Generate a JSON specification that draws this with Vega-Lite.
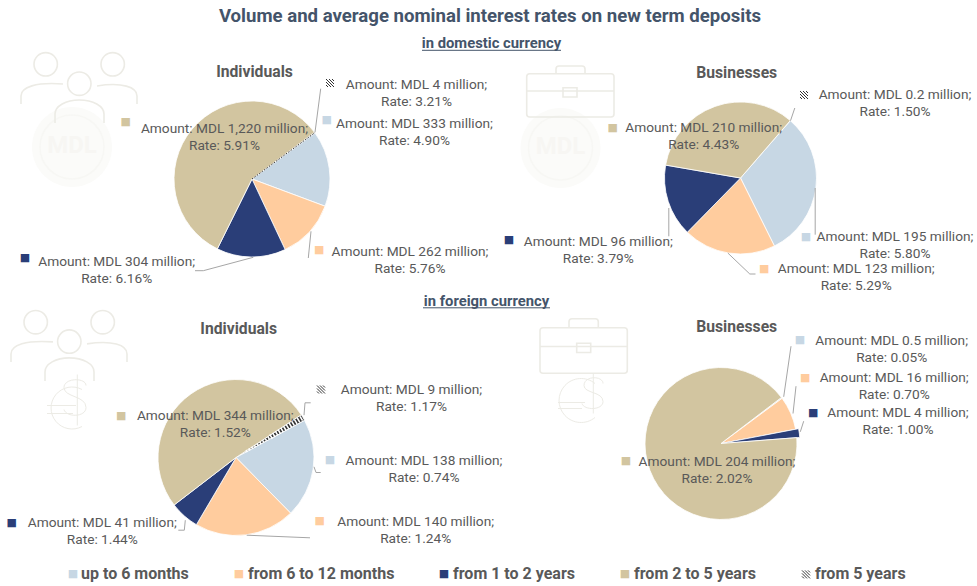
{
  "$schema": "https://vega.github.io/schema/vega-lite/v6.json",
  "padding": 0,
  "background": "white",
  "config": {"view": {"stroke": null}, "text": {"font": "Roboto"}},
  "datasets": {
    "deposits": [
      {"panel": "TL", "term": "from 5 years", "rank": 0, "amount": 4, "label": "Amount: MDL 4 million;\nRate: 3.21%"},
      {"panel": "TL", "term": "up to 6 months", "rank": 1, "amount": 333, "label": "Amount: MDL 333 million;\nRate: 4.90%"},
      {"panel": "TL", "term": "from 6 to 12 months", "rank": 2, "amount": 262, "label": "Amount: MDL 262 million;\nRate: 5.76%"},
      {"panel": "TL", "term": "from 1 to 2 years", "rank": 3, "amount": 304, "label": "Amount: MDL 304 million;\nRate: 6.16%"},
      {"panel": "TL", "term": "from 2 to 5 years", "rank": 4, "amount": 1220, "label": "Amount: MDL 1,220 million;\nRate: 5.91%"},
      {"panel": "TR", "term": "from 5 years", "rank": 0, "amount": 0.2, "label": "Amount: MDL  0.2 million;\nRate: 1.50%"},
      {"panel": "TR", "term": "up to 6 months", "rank": 1, "amount": 195, "label": "Amount: MDL 195 million;\nRate: 5.80%"},
      {"panel": "TR", "term": "from 6 to 12 months", "rank": 2, "amount": 123, "label": "Amount: MDL 123 million;\nRate: 5.29%"},
      {"panel": "TR", "term": "from 1 to 2 years", "rank": 3, "amount": 96, "label": "Amount: MDL 96 million;\nRate: 3.79%"},
      {"panel": "TR", "term": "from 2 to 5 years", "rank": 4, "amount": 210, "label": "Amount: MDL 210 million;\nRate: 4.43%"},
      {"panel": "BL", "term": "from 5 years", "rank": 0, "amount": 9, "label": "Amount: MDL 9 million;\nRate: 1.17%"},
      {"panel": "BL", "term": "up to 6 months", "rank": 1, "amount": 138, "label": "Amount: MDL 138 million;\nRate: 0.74%"},
      {"panel": "BL", "term": "from 6 to 12 months", "rank": 2, "amount": 140, "label": "Amount: MDL 140 million;\nRate: 1.24%"},
      {"panel": "BL", "term": "from 1 to 2 years", "rank": 3, "amount": 41, "label": "Amount: MDL 41 million;\nRate: 1.44%"},
      {"panel": "BL", "term": "from 2 to 5 years", "rank": 4, "amount": 344, "label": "Amount: MDL 344 million;\nRate: 1.52%"},
      {"panel": "BR", "term": "up to 6 months", "rank": 1, "amount": 0.5, "label": "Amount: MDL  0.5 million;\nRate: 0.05%"},
      {"panel": "BR", "term": "from 6 to 12 months", "rank": 2, "amount": 16, "label": "Amount: MDL 16 million;\nRate: 0.70%"},
      {"panel": "BR", "term": "from 1 to 2 years", "rank": 3, "amount": 4, "label": "Amount: MDL 4 million;\nRate: 1.00%"},
      {"panel": "BR", "term": "from 2 to 5 years", "rank": 4, "amount": 204, "label": "Amount: MDL 204 million;\nRate: 2.02%"}
    ],
    "terms": [
      {"term": "up to 6 months", "rank": 1},
      {"term": "from 6 to 12 months", "rank": 2},
      {"term": "from 1 to 2 years", "rank": 3},
      {"term": "from 2 to 5 years", "rank": 4},
      {"term": "from 5 years", "rank": 0}
    ]
  },
  "spacing": -11.5,
  "vconcat": [
    {
      "width": 977,
      "height": 52.5,
      "data": {"values": [{"title": "Volume and average nominal interest rates on new term deposits", "sub": "in domestic currency"}]},
      "layer": [
        {"mark": {"type": "text", "fontSize": 18.6, "fontWeight": "bold", "fill": "#44546A", "dx": 1.5, "dy": -10.25}, "encoding": {"text": {"field": "title"}}},
        {"mark": {"type": "text", "fontSize": 14.8, "fontWeight": "bold", "fill": "#44546A", "dx": 3, "dy": 17.75}, "encoding": {"text": {"field": "sub"}}},
        {"mark": {"type": "point", "shape": "M-66.5,24.05H72.5", "size": 4, "filled": false, "stroke": "#44546A", "strokeWidth": 1, "opacity": 1}}
      ]
    },
    {
      "spacing": 0,
      "bounds": "flush",
      "hconcat": [
        {
          "width": 504,
          "height": 252,
          "layer": [
            {"data": {"values": [{"icon": "coin"}]}, "mark": {"type": "point", "shape": "M-220,-32a40,40 0 1,0 80,0a40,40 0 1,0 -80,0", "size": 4, "filled": true, "fill": "#FBFBF9", "strokeWidth": 0, "opacity": 1}},
            {"data": {"values": [{"icon": "coin"}]}, "mark": {"type": "point", "shape": "M-212,-32a32,32 0 1,0 64,0a32,32 0 1,0 -64,0", "size": 4, "filled": false, "stroke": "#F7F7F4", "strokeWidth": 1.5, "opacity": 1}},
            {"data": {"values": [{"t": "MDL"}]}, "mark": {"type": "text", "fontSize": 24, "fontWeight": "bold", "fill": "#F7F6F3", "dx": -180, "dy": -33}, "encoding": {"text": {"field": "t"}}},
            {"data": {"values": [{"icon": "people"}]}, "mark": {"type": "point", "shape": "M-218,-114.7a11.7,11.7 0 1,0 23.4,0a11.7,11.7 0 1,0 -23.4,0M-151,-114.7a11.7,11.7 0 1,0 23.4,0a11.7,11.7 0 1,0 -23.4,0M-184.4,-95.3a11.7,11.7 0 1,0 23.4,0a11.7,11.7 0 1,0 -23.4,0M-231,-75V-83C-231,-92 -216,-97 -189,-95M-115,-75V-83C-115,-92 -130,-97 -155,-93M-197,-56V-65C-197,-73 -186,-79 -172.7,-79C-159,-79 -148,-73 -148,-65V-56", "size": 4, "filled": false, "stroke": "#ECEBE5", "strokeWidth": 1.6, "opacity": 1}},
            {
              "data": {"name": "deposits"},
              "transform": [{"filter": "datum.panel == 'TL'"}],
              "layer": [
                {
                  "mark": {"type": "arc", "radius": 78, "stroke": "white", "strokeWidth": 0.8},
                  "encoding": {
                    "theta": {"field": "amount", "type": "quantitative", "stack": true, "scale": {"range": [0.93, 7.213]}},
                    "order": {"field": "rank", "type": "ordinal", "sort": "ascending"},
                    "color": {"field": "term", "type": "nominal", "legend": null, "scale": {"domain": ["up to 6 months", "from 6 to 12 months", "from 1 to 2 years", "from 2 to 5 years", "from 5 years"], "range": ["#C7D7E4", "#FFCC9E", "#2A3E78", "#D2C5A0", "#333333"]}}
                  }
                },
                {
                  "mark": {"type": "text", "font": "DejaVu Sans", "fontSize": 11, "dx": {"expr": "[78,74.7,67.3,-227,-126.3][datum.rank]"}, "dy": {"expr": "[-96,-58.7,71.3,79,-57][datum.rank]"}},
                  "encoding": {
                    "text": {"condition": {"test": "datum.rank == 0", "value": ""}, "value": "■"},
                    "color": {"field": "term", "type": "nominal", "legend": null}
                  }
                },
                {
                  "mark": {"type": "text", "fontSize": 13.7, "fill": "#595959", "lineBreak": "\n", "lineHeight": 17, "dx": {"expr": "[164.5,162.5,158,-135.3,-27.5][datum.rank]"}, "dy": {"expr": "[-94.5,-55,72.8,83.2,-50][datum.rank]"}},
                  "encoding": {"text": {"field": "label"}}
                }
              ]
            },
            {"data": {"values": [{"icon": "swatch"}]}, "mark": {"type": "point", "shape": "M74,-100l8,8M77,-100l5,5M74,-97l5,5M80,-100l2,2M74,-94l2,2", "size": 4, "filled": false, "stroke": "#333333", "strokeWidth": 1, "opacity": 1}},
            {"data": {"values": [{"icon": "hatch"}]}, "mark": {"type": "point", "shape": "M0,0L63,-46.4", "size": 4, "filled": false, "stroke": "#333333", "strokeWidth": 1, "strokeDash": [1.5, 1.5], "opacity": 1}},
            {"data": {"values": [{"icon": "leaders"}]}, "mark": {"type": "point", "shape": "M63,-46.7L68.7,-90.3M56.3,79L59,52.3M-57,91.7L-48.7,91.7L1.3,78.3", "size": 4, "filled": false, "stroke": "#A6A6A6", "strokeWidth": 1, "opacity": 1}},
            {"data": {"values": [{"t": "Individuals"}]}, "mark": {"type": "text", "fontSize": 15.7, "fontWeight": "bold", "fill": "#595959", "dx": 2.5, "dy": -107}, "encoding": {"text": {"field": "t"}}}
          ]
        },
        {
          "width": 473,
          "height": 250,
          "layer": [
            {"data": {"values": [{"icon": "coin"}]}, "mark": {"type": "point", "shape": "M-220,-30a40,40 0 1,0 80,0a40,40 0 1,0 -80,0", "size": 4, "filled": true, "fill": "#FBFBF9", "strokeWidth": 0, "opacity": 1}},
            {"data": {"values": [{"icon": "coin"}]}, "mark": {"type": "point", "shape": "M-212,-30a32,32 0 1,0 64,0a32,32 0 1,0 -64,0", "size": 4, "filled": false, "stroke": "#F7F7F4", "strokeWidth": 1.5, "opacity": 1}},
            {"data": {"values": [{"t": "MDL"}]}, "mark": {"type": "text", "fontSize": 24, "fontWeight": "bold", "fill": "#F7F6F3", "dx": -180, "dy": -31}, "encoding": {"text": {"field": "t"}}},
            {"data": {"values": [{"icon": "case"}]}, "mark": {"type": "point", "shape": "M-213.8,-101.3a3,3 0 0 1 3,-3H-129.5a3,3 0 0 1 3,3V-64a3,3 0 0 1 -3,3H-210.8a3,3 0 0 1 -3,-3ZM-184.5,-104.3V-109a3,3 0 0 1 3,-3H-158.5a3,3 0 0 1 3,3V-104.3M-213.8,-87H-126.5M-177.5,-90.3H-163.5V-81H-177.5Z", "size": 4, "filled": false, "stroke": "#ECEBE5", "strokeWidth": 1.6, "opacity": 1}},
            {
              "data": {"name": "deposits"},
              "transform": [{"filter": "datum.panel == 'TR'"}],
              "layer": [
                {
                  "mark": {"type": "arc", "radius": 76, "stroke": "white", "strokeWidth": 0.8},
                  "encoding": {
                    "theta": {"field": "amount", "type": "quantitative", "stack": true, "scale": {"range": [0.714, 6.997]}},
                    "order": {"field": "rank", "type": "ordinal", "sort": "ascending"},
                    "color": {"field": "term", "type": "nominal", "legend": null, "scale": {"domain": ["up to 6 months", "from 6 to 12 months", "from 1 to 2 years", "from 2 to 5 years", "from 5 years"], "range": ["#C7D7E4", "#FFCC9E", "#2A3E78", "#D2C5A0", "#333333"]}}
                  }
                },
                {
                  "mark": {"type": "text", "font": "DejaVu Sans", "fontSize": 11, "dx": {"expr": "[63.5,65.5,23.8,-231.5,-127.8][datum.rank]"}, "dy": {"expr": "[-83,59,91,62.3,-49.7][datum.rank]"}},
                  "encoding": {
                    "text": {"condition": {"test": "datum.rank == 0", "value": ""}, "value": "■"},
                    "color": {"field": "term", "type": "nominal", "legend": null}
                  }
                },
                {
                  "mark": {"type": "text", "fontSize": 13.7, "fill": "#595959", "lineBreak": "\n", "lineHeight": 17, "dx": {"expr": "[154.5,154.5,115.7,-142.2,-36.8][datum.rank]"}, "dy": {"expr": "[-82.7,59.2,91.3,64.2,-49.8][datum.rank]"}},
                  "encoding": {"text": {"field": "label"}}
                }
              ]
            },
            {"data": {"values": [{"icon": "swatch"}]}, "mark": {"type": "point", "shape": "M59.5,-87l8,8M62.5,-87l5,5M59.5,-84l5,5M65.5,-87l2,2M59.5,-81l2,2", "size": 4, "filled": false, "stroke": "#333333", "strokeWidth": 1, "opacity": 1}},
            {"data": {"values": [{"icon": "leaders"}]}, "mark": {"type": "point", "shape": "M50,-57.3L54.3,-70M74.7,10V56.7M-12.7,75L9.3,96H15M-71.7,30V58.3", "size": 4, "filled": false, "stroke": "#A6A6A6", "strokeWidth": 1, "opacity": 1}},
            {"data": {"values": [{"t": "Businesses"}]}, "mark": {"type": "text", "fontSize": 15.7, "fontWeight": "bold", "fill": "#595959", "dx": -3.8, "dy": -105.5}, "encoding": {"text": {"field": "t"}}}
          ]
        }
      ]
    },
    {
      "spacing": 0,
      "bounds": "flush",
      "hconcat": [
        {
          "width": 472,
          "height": 202,
          "layer": [
            {"data": {"values": [{"icon": "people"}]}, "mark": {"type": "point", "shape": "M-212,-135.3a11.7,11.7 0 1,0 23.4,0a11.7,11.7 0 1,0 -23.4,0M-145,-135.3a11.7,11.7 0 1,0 23.4,0a11.7,11.7 0 1,0 -23.4,0M-178.4,-115.9a11.7,11.7 0 1,0 23.4,0a11.7,11.7 0 1,0 -23.4,0M-225,-95.6V-103.6C-225,-112.6 -210,-117.6 -183,-115.6M-109,-95.6V-103.6C-109,-112.6 -124,-117.6 -149,-113.6M-191,-76.6V-85.6C-191,-93.6 -180,-99.6 -166.7,-99.6C-153,-99.6 -142,-93.6 -142,-85.6V-76.6", "size": 4, "filled": false, "stroke": "#ECEBE5", "strokeWidth": 1.6, "opacity": 1}},
            {"data": {"values": [{"icon": "currency"}]}, "mark": {"type": "point", "shape": "M-154,-68A21,21 0 1,0 -154,-31M-189,-52H-160M-189,-44H-163M-158.7,-83V-32M-150,-72C-150,-80 -172,-80 -172,-70C-172,-60 -150,-62 -150,-50C-150,-40 -170,-40 -172,-48", "size": 4, "filled": false, "stroke": "#ECEBE5", "strokeWidth": 1, "opacity": 1}},
            {
              "data": {"name": "deposits"},
              "transform": [{"filter": "datum.panel == 'BL'"}],
              "layer": [
                {
                  "mark": {"type": "arc", "radius": 78, "stroke": "white", "strokeWidth": 0.8},
                  "encoding": {
                    "theta": {"field": "amount", "type": "quantitative", "stack": true, "scale": {"range": [0.991, 7.274]}},
                    "order": {"field": "rank", "type": "ordinal", "sort": "ascending"},
                    "color": {"field": "term", "type": "nominal", "legend": null, "scale": {"domain": ["up to 6 months", "from 6 to 12 months", "from 1 to 2 years", "from 2 to 5 years", "from 5 years"], "range": ["#C7D7E4", "#FFCC9E", "#2A3E78", "#D2C5A0", "#333333"]}}
                  }
                },
                {
                  "mark": {"type": "text", "font": "DejaVu Sans", "fontSize": 11, "dx": {"expr": "[85,94,83.7,-224.3,-114.7][datum.rank]"}, "dy": {"expr": "[-68,2.7,63.7,65,-41.7][datum.rank]"}},
                  "encoding": {
                    "text": {"condition": {"test": "datum.rank == 0", "value": ""}, "value": "■"},
                    "color": {"field": "term", "type": "nominal", "legend": null}
                  }
                },
                {
                  "mark": {"type": "text", "fontSize": 13.7, "fill": "#595959", "lineBreak": "\n", "lineHeight": 17, "dx": {"expr": "[175.5,188,179.7,-133.7,-20.7][datum.rank]"}, "dy": {"expr": "[-68,3,64,65,-42][datum.rank]"}},
                  "encoding": {"text": {"field": "label"}}
                }
              ]
            },
            {"data": {"values": [{"icon": "swatch"}]}, "mark": {"type": "point", "shape": "M81,-72l8,8M84,-72l5,5M81,-69l5,5M87,-72l2,2M81,-66l2,2", "size": 4, "filled": false, "stroke": "#333333", "strokeWidth": 1, "opacity": 1}},
            {"data": {"values": [{"icon": "hatch"}]}, "mark": {"type": "point", "shape": "M34.4,-20.5L66,-39.4", "size": 4, "filled": false, "stroke": "white", "strokeWidth": 5, "strokeDash": [1.6, 1.6], "opacity": 1}},
            {"data": {"values": [{"icon": "hatch"}]}, "mark": {"type": "point", "shape": "M10,-6L34.4,-20.5", "size": 4, "filled": false, "stroke": "white", "strokeWidth": 2.5, "strokeDash": [1.6, 1.6], "opacity": 1}},
            {"data": {"values": [{"icon": "leaders"}]}, "mark": {"type": "point", "shape": "M68,-42.3L69,-54.7H74.7M78,9.3L80,15H84.7M10.7,77.7L74,80.3M-50.7,62.7L-51.7,72.7H-57.7", "size": 4, "filled": false, "stroke": "#A6A6A6", "strokeWidth": 1, "opacity": 1}},
            {"data": {"values": [{"icon": "underline"}]}, "mark": {"type": "point", "shape": "M187,-149.7H314", "size": 4, "filled": false, "stroke": "#44546A", "strokeWidth": 1, "opacity": 1}},
            {"data": {"values": [{"t": "in foreign currency"}]}, "mark": {"type": "text", "fontSize": 14.8, "fontWeight": "bold", "fill": "#44546A", "dx": 250.5, "dy": -156}, "encoding": {"text": {"field": "t"}}},
            {"data": {"values": [{"t": "Individuals"}]}, "mark": {"type": "text", "fontSize": 15.7, "fontWeight": "bold", "fill": "#595959", "dx": 2.7, "dy": -128.7}, "encoding": {"text": {"field": "t"}}}
          ]
        },
        {
          "width": 498,
          "height": 174,
          "layer": [
            {"data": {"values": [{"icon": "case"}]}, "mark": {"type": "point", "shape": "M-181,-112.7a3,3 0 0 1 3,-3H-96.7a3,3 0 0 1 3,3V-73.3a3,3 0 0 1 -3,3H-178a3,3 0 0 1 -3,-3ZM-152,-115.7V-121.7a3,3 0 0 1 3,-3H-125.7a3,3 0 0 1 3,3V-115.7M-181,-97H-93.7M-144.3,-100.3H-130.3V-91H-144.3Z", "size": 4, "filled": false, "stroke": "#ECEBE5", "strokeWidth": 1.6, "opacity": 1}},
            {"data": {"values": [{"icon": "currency"}]}, "mark": {"type": "point", "shape": "M-126,-60A22,22 0 1,0 -126,-26M-163,-41H-136M-163,-35H-139M-127.7,-70V-30M-118,-60C-118,-68 -137,-68 -137,-58C-137,-50 -118,-52 -118,-42C-118,-33 -137,-33 -139,-40", "size": 4, "filled": false, "stroke": "#ECEBE5", "strokeWidth": 1, "opacity": 1}},
            {
              "data": {"name": "deposits"},
              "transform": [{"filter": "datum.panel == 'BR'"}],
              "layer": [
                {
                  "mark": {"type": "arc", "radius": {"expr": "datum.rank == 3 ? 79 : 76"}, "stroke": "white", "strokeWidth": 0.8},
                  "encoding": {
                    "theta": {"field": "amount", "type": "quantitative", "stack": true, "scale": {"range": [0.92, 7.203]}},
                    "order": {"field": "rank", "type": "ordinal", "sort": "ascending"},
                    "color": {"field": "term", "type": "nominal", "legend": null, "scale": {"domain": ["up to 6 months", "from 6 to 12 months", "from 1 to 2 years", "from 2 to 5 years", "from 5 years"], "range": ["#C7D7E4", "#FFCC9E", "#2A3E78", "#D2C5A0", "#333333"]}}
                  }
                },
                {
                  "mark": {"type": "text", "font": "DejaVu Sans", "fontSize": 11, "dx": {"expr": "[0,79,84.3,92.3,-95][datum.rank]"}, "dy": {"expr": "[0,-103.3,-66,-31,17.7][datum.rank]"}},
                  "encoding": {
                    "text": {"value": "■"},
                    "color": {"field": "term", "type": "nominal", "legend": null}
                  }
                },
                {
                  "mark": {"type": "text", "fontSize": 13.7, "fill": "#595959", "lineBreak": "\n", "lineHeight": 17, "dx": {"expr": "[0,170.7,173.2,177,-4][datum.rank]"}, "dy": {"expr": "[0,-102.8,-65.7,-30.7,18.2][datum.rank]"}},
                  "encoding": {"text": {"field": "label"}}
                }
              ]
            },
            {"data": {"values": [{"icon": "leaders"}]}, "mark": {"type": "point", "shape": "M62.7,-46.7L70,-97.3M72,-30L75,-57.3M79.3,-11.7L82.7,-22.3", "size": 4, "filled": false, "stroke": "#A6A6A6", "strokeWidth": 1, "opacity": 1}},
            {"data": {"values": [{"t": "Businesses"}]}, "mark": {"type": "text", "fontSize": 15.7, "fontWeight": "bold", "fill": "#595959", "dx": 15.7, "dy": -116.3}, "encoding": {"text": {"field": "t"}}}
          ]
        }
      ]
    },
    {
      "width": 977,
      "height": 30,
      "data": {"name": "terms"},
      "layer": [
        {
          "mark": {"type": "text", "font": "DejaVu Sans", "fontSize": 11, "dx": {"expr": "[317.5,-415.5,-249.5,-44.5,136.5][datum.rank]"}, "dy": 0.9},
          "encoding": {
            "text": {"condition": {"test": "datum.rank == 0", "value": ""}, "value": "■"},
            "color": {"field": "term", "type": "nominal", "legend": null, "scale": {"domain": ["up to 6 months", "from 6 to 12 months", "from 1 to 2 years", "from 2 to 5 years", "from 5 years"], "range": ["#C7D7E4", "#FFCC9E", "#2A3E78", "#D2C5A0", "#333333"]}}
          }
        },
        {
          "data": {"values": [{"icon": "swatch"}]},
          "mark": {"type": "point", "shape": "M313.5,-3.1l8,8M316.5,-3.1l5,5M313.5,-0.1l5,5M319.5,-3.1l2,2M313.5,2.9l2,2", "size": 4, "filled": false, "stroke": "#333333", "strokeWidth": 1, "opacity": 1}
        },
        {
          "mark": {"type": "text", "align": "left", "fontSize": 16, "fontWeight": "bold", "fill": "#595959", "dx": {"expr": "[326.5,-407.5,-240.5,-35.5,145.5][datum.rank]"}, "dy": 0.9},
          "encoding": {"text": {"field": "term"}}
        }
      ]
    }
  ]
}
